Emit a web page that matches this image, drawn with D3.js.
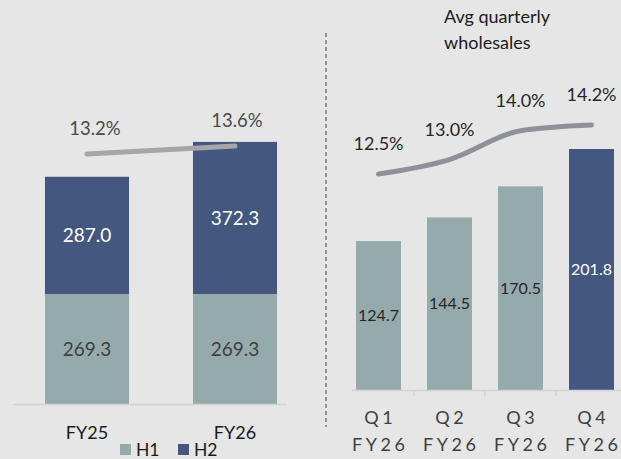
<!DOCTYPE html>
<html><head><meta charset="utf-8">
<script src="https://cdn.jsdelivr.net/npm/d3@7"></script>
<style>
html,body{margin:0;padding:0;background:#e6e6e6;}
svg{display:block;font-family:Lato,"Open Sans",sans-serif;}
</style></head>
<body>
<svg id="c" width="621" height="459"></svg>
<script>
// ---- data ----
const yearCats = ["FY25", "FY26"];
const h1Values = [269.3, 269.3];
const h2Values = [287.0, 372.3];
const yearMargin = [13.2, 13.6];
const quarterCats = ["Q1", "Q2", "Q3", "Q4"];
const quarterSub = ["FY26", "FY26", "FY26", "FY26"];
const quarterValues = [124.7, 144.5, 170.5, 201.8];
const quarterMargin = [12.5, 13.0, 14.0, 14.2];
const legendLabels = ["H1", "H2"];
const titleLines = ["Avg quarterly", "wholesales"];

const C_H1 = "#95abab", C_H2 = "#44577f";
const svg = d3.select("#c");
const fmt1 = d3.format(".1f");

// ---- left panel ----
const xL = d3.scaleBand().domain(yearCats).range([13, 309]).paddingInner(0.432).paddingOuter(0.216);
const yL = d3.scaleLinear().domain([0, 641.6]).range([404, 141.9]);
const pL = d3.scaleLinear().domain([13.2, 13.6]).range([154, 146]);

const stackData = yearCats.map((c, i) => ({cat: c, H1: h1Values[i], H2: h2Values[i]}));
const stack = d3.stack().keys(["H1", "H2"])(stackData);
const gL = svg.append("g");
stack.forEach(layer => {
  gL.selectAll(null).data(layer).join("rect")
    .attr("x", d => xL(d.data.cat)).attr("width", xL.bandwidth())
    .attr("y", d => yL(d[1])).attr("height", d => yL(d[0]) - yL(d[1]))
    .attr("fill", layer.key === "H1" ? C_H1 : C_H2);
  gL.selectAll(null).data(layer).join("text")
    .attr("x", d => xL(d.data.cat) + xL.bandwidth() / 2)
    .attr("y", d => (yL(d[0]) + yL(d[1])) / 2)
    .attr("dy", "0.35em").attr("text-anchor", "middle")
    .attr("font-size", 19)
    .attr("fill", layer.key === "H1" ? "#404040" : "#ffffff")
    .text(d => fmt1(d.data[layer.key]));
});
// baseline
gL.append("line").attr("x1", 13).attr("x2", 287).attr("y1", yL(0) + 0.5).attr("y2", yL(0) + 0.5)
  .attr("stroke", "#d2d2d2").attr("stroke-width", 1.5);
// x labels
gL.selectAll(null).data(yearCats).join("text")
  .attr("x", d => xL(d) + xL.bandwidth() / 2).attr("y", 433).attr("dy", "0.35em")
  .attr("text-anchor", "middle").attr("font-size", 18).attr("fill", "#1a1a1a").text(d => d);
// margin line
const lineL = d3.line().x((d, i) => xL(yearCats[i]) + xL.bandwidth() / 2).y(d => pL(d));
gL.append("path").attr("d", lineL(yearMargin)).attr("fill", "none")
  .attr("stroke", "#a6a6a6").attr("stroke-width", 5).attr("stroke-linecap", "round");
gL.selectAll(null).data(yearMargin).join("text")
  .attr("x", (d, i) => xL(yearCats[i]) + xL.bandwidth() / 2 + (i === 0 ? 8 : 2))
  .attr("y", d => pL(d) - 25).attr("dy", "0.35em")
  .attr("text-anchor", "middle").attr("font-size", 18.5).attr("fill", "#4a4a4a")
  .text(d => fmt1(d) + "%");
// legend
const lg = gL.selectAll(null).data(legendLabels).join("g")
  .attr("transform", (d, i) => `translate(${120 + i * 58},444)`);
lg.append("rect").attr("width", 11).attr("height", 11).attr("fill", (d, i) => i ? C_H2 : C_H1);
lg.append("text").attr("x", 16).attr("y", 5.5).attr("dy", "0.35em").attr("font-size", 17.5)
  .attr("fill", "#1a1a1a").text(d => d);

// ---- divider ----
svg.append("line").attr("x1", 326).attr("x2", 326).attr("y1", 33).attr("y2", 427)
  .attr("stroke", "#595959").attr("stroke-width", 1.2).attr("stroke-dasharray", "4,3");

// ---- right panel ----
const xR = d3.scaleBand().domain(quarterCats).range([343, 627]).paddingInner(0.366).paddingOuter(0.183);
const yR = d3.scaleLinear().domain([0, 201.8]).range([390, 149]);
const pR = d3.scaleLinear().domain([12.5, 14.2]).range([174, 125]);
const gR = svg.append("g");
gR.selectAll(null).data(quarterValues).join("rect")
  .attr("x", (d, i) => xR(quarterCats[i])).attr("width", xR.bandwidth())
  .attr("y", d => yR(d)).attr("height", d => yR(0) - yR(d))
  .attr("fill", (d, i) => i === 3 ? C_H2 : C_H1);
gR.selectAll(null).data(quarterValues).join("text")
  .attr("x", (d, i) => xR(quarterCats[i]) + xR.bandwidth() / 2)
  .attr("y", d => (yR(0) + yR(d)) / 2).attr("dy", "0.35em")
  .attr("text-anchor", "middle").attr("font-size", 16)
  .attr("fill", (d, i) => i === 3 ? "#ffffff" : "#262626").text(d => fmt1(d));
// baseline + ticks
gR.append("line").attr("x1", 352).attr("x2", 621).attr("y1", yR(0) + 0.5).attr("y2", yR(0) + 0.5)
  .attr("stroke", "#d2d2d2").attr("stroke-width", 1.5);
gR.selectAll(null).data(quarterCats.slice(1)).join("line")
  .attr("x1", d => xR(d) - xR.step() * xR.paddingInner() / 2)
  .attr("x2", d => xR(d) - xR.step() * xR.paddingInner() / 2)
  .attr("y1", yR(0)).attr("y2", yR(0) + 6).attr("stroke", "#d2d2d2").attr("stroke-width", 1.5);
// x labels
const ls = 3.5;
gR.selectAll(null).data(quarterCats).join("text")
  .attr("x", d => xR(d) + xR.bandwidth() / 2 + ls / 2).attr("y", 418).attr("dy", "0.35em")
  .attr("text-anchor", "middle").attr("font-size", 18).attr("letter-spacing", ls)
  .attr("fill", "#404040").text(d => d);
gR.selectAll(null).data(quarterSub).join("text")
  .attr("x", (d, i) => xR(quarterCats[i]) + xR.bandwidth() / 2 + ls / 2).attr("y", 445).attr("dy", "0.35em")
  .attr("text-anchor", "middle").attr("font-size", 18).attr("letter-spacing", ls)
  .attr("fill", "#404040").text(d => d);
// margin curve
const lineR = d3.line().x((d, i) => xR(quarterCats[i]) + xR.bandwidth() / 2).y(d => pR(d))
  .curve(d3.curveMonotoneX);
gR.append("path").attr("d", lineR(quarterMargin)).attr("fill", "none")
  .attr("stroke", "#8e9199").attr("stroke-width", 5).attr("stroke-linecap", "round");
gR.selectAll(null).data(quarterMargin).join("text")
  .attr("x", (d, i) => xR(quarterCats[i]) + xR.bandwidth() / 2)
  .attr("y", d => pR(d) - 30).attr("dy", "0.35em")
  .attr("text-anchor", "middle").attr("font-size", 18).attr("fill", "#262626")
  .text(d => fmt1(d) + "%");
// title
gR.selectAll(null).data(titleLines).join("text")
  .attr("x", 444).attr("y", (d, i) => 17 + i * 26).attr("dy", "0.35em")
  .attr("font-size", 18).attr("fill", "#1a1a1a").text(d => d);
</script>
</body></html>
